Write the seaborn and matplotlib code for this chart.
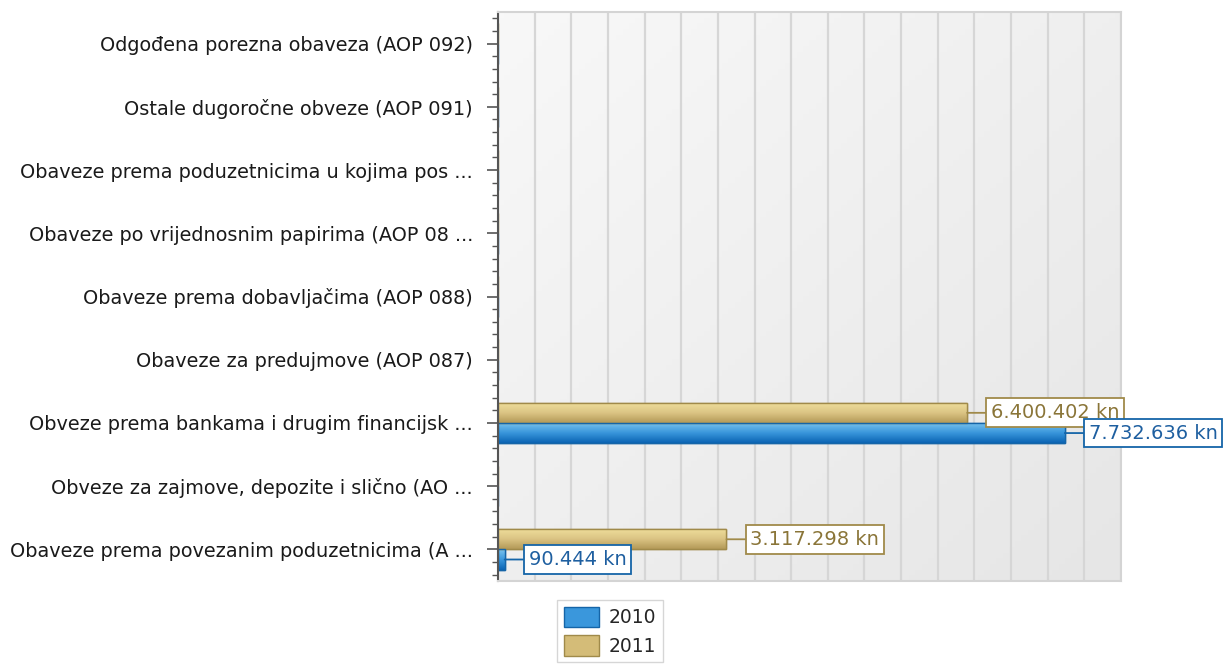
import numpy as np
import pandas as pd
import matplotlib
matplotlib.use("Agg")
import matplotlib.pyplot as plt
import seaborn as sns
from matplotlib.ticker import MultipleLocator, NullFormatter
from matplotlib.patches import Patch
from matplotlib.colors import LinearSegmentedColormap

categories = [
    "Odgođena porezna obaveza (AOP 092)",
    "Ostale dugoročne obveze (AOP 091)",
    "Obaveze prema poduzetnicima u kojima pos ...",
    "Obaveze po vrijednosnim papirima (AOP 08 ...",
    "Obaveze prema dobavljačima (AOP 088)",
    "Obaveze za predujmove (AOP 087)",
    "Obveze prema bankama i drugim financijsk ...",
    "Obveze za zajmove, depozite i slično (AO ...",
    "Obaveze prema povezanim poduzetnicima (A ...",
]
years = ["2010", "2011"]
values_2010 = [0, 0, 0, 0, 0, 0, 7732636, 0, 90444]
values_2011 = [0, 0, 0, 0, 0, 0, 6400402, 0, 3117298]
value_labels_2010 = ["", "", "", "", "", "", "7.732.636 kn", "", "90.444 kn"]
value_labels_2011 = ["", "", "", "", "", "", "6.400.402 kn", "", "3.117.298 kn"]

df = pd.DataFrame({
    "category": categories * 2,
    "value": values_2010 + values_2011,
    "year": ["2010"] * len(categories) + ["2011"] * len(categories),
})

sns.set_theme(style="white")
plt.rcParams["font.family"] = ["DejaVu Sans"]

fig = plt.figure(figsize=(12.28, 6.66), dpi=100)
ax = fig.add_axes([498 / 1228, 1 - 581 / 666, (1121 - 498) / 1228, (581 - 12) / 666])

colors = {"2010": "#2a86d0", "2011": "#d8c17c"}
edges = {"2010": "#1565a8", "2011": "#a08a4a"}
text_colors = {"2010": "#1e5fa0", "2011": "#8a7538"}

sns.barplot(data=df, y="category", x="value", hue="year", hue_order=["2011", "2010"],
            order=categories, orient="h", width=0.64, palette=colors, ax=ax,
            legend=False, saturation=1, linewidth=1)

n = len(categories)
for i, p in enumerate(ax.patches[: 2 * n]):
    yr = "2011" if i < n else "2010"
    p.set_edgecolor(edges[yr])

# gradients on bars
cm_blue = LinearSegmentedColormap.from_list("b", ["#7cc4ee", "#3a97dc", "#0b64b4"])
cm_gold = LinearSegmentedColormap.from_list("g", ["#f0df9c", "#dcc585", "#b49a58"])
grad = np.linspace(0, 1, 64).reshape(-1, 1)
for i, p in enumerate(ax.patches[: 2 * n]):
    w = p.get_width()
    if w <= 0:
        continue
    yr = "2011" if i < n else "2010"
    x0, y0, h = p.get_x(), p.get_y(), p.get_height()
    im = ax.imshow(grad, extent=[x0, x0 + w, y0 + h, y0], origin="upper",
                   cmap=cm_blue if yr == "2010" else cm_gold, aspect="auto",
                   zorder=p.get_zorder() + 0.1, interpolation="bilinear")
    im.set_clip_path(p)
    edge = plt.Rectangle((x0, y0), w, h, fill=False, ec=edges[yr], lw=1,
                         zorder=p.get_zorder() + 0.2)
    ax.add_patch(edge)

# background gradient
bg = np.linspace(0, 1, 100).reshape(1, -1) * 0.5 + np.linspace(0, 1, 100).reshape(-1, 1) * 0.5
cm_bg = LinearSegmentedColormap.from_list("bg", ["#f8f8f8", "#e6e6e6"])
ax.imshow(bg, extent=[0, 1, 0, 1], transform=ax.transAxes, cmap=cm_bg, aspect="auto",
          zorder=-5, origin="upper")

ax.set_xlim(0, 8500000)
ax.set_ylim(n - 0.5, -0.5)

# value labels
cat_pos = {c: i for i, c in enumerate(categories)}
offs = {"2011": -0.16, "2010": 0.16}
for yr, vals, labs in [("2011", values_2011, value_labels_2011), ("2010", values_2010, value_labels_2010)]:
    for c, v, lab in zip(categories, vals, labs):
        if v <= 0:
            continue
        y = cat_pos[c] + offs[yr]
        ax.annotate(lab, xy=(v, y), xytext=(24, 0), textcoords="offset pixels",
                    ha="left", va="center", fontsize=14, color=text_colors[yr],
                    bbox=dict(boxstyle="square,pad=0.25", fc="white", ec=edges[yr], lw=1.3),
                    arrowprops=dict(arrowstyle="-", color=edges[yr], lw=1.3, shrinkA=0, shrinkB=0),
                    annotation_clip=False, zorder=10)

# axes styling
ax.xaxis.set_major_locator(MultipleLocator(500000))
ax.xaxis.set_major_formatter(NullFormatter())
ax.tick_params(axis="x", length=0)
ax.grid(axis="x", color="#d6d6d6", lw=1.6)
ax.grid(axis="y", visible=False)
ax.set_axisbelow(True)
ax.set_xlabel("")
ax.set_ylabel("")

ax.yaxis.set_minor_locator(MultipleLocator(0.2))
ax.tick_params(axis="y", which="major", length=8, width=1.2, color="#555555",
               labelsize=13.9, pad=10, left=True, labelcolor="#1a1a1a")
ax.tick_params(axis="y", which="minor", length=4, width=1, color="#555555", left=True)

for s in ["top", "right", "bottom"]:
    ax.spines[s].set_color("#d4d4d4")
    ax.spines[s].set_linewidth(1.5)
ax.spines["left"].set_color("#555555")
ax.spines["left"].set_linewidth(1.5)

# legend
handles = [Patch(facecolor="#3a97dc", edgecolor=edges["2010"], label="2010"),
           Patch(facecolor="#d4bc78", edgecolor=edges["2011"], label="2011")]
leg = fig.legend(handles=handles, loc="upper left", bbox_to_anchor=(557 / 1228, 1 - 600 / 666),
                 fontsize=13.5, frameon=True, fancybox=False, handlelength=1.87, handleheight=1.33,
                 labelspacing=0.4, borderpad=0.35, handletextpad=0.55, borderaxespad=0)
leg.get_frame().set_edgecolor("#cccccc")
leg.get_frame().set_linewidth(1)

fig.savefig("out.png", dpi=100)
